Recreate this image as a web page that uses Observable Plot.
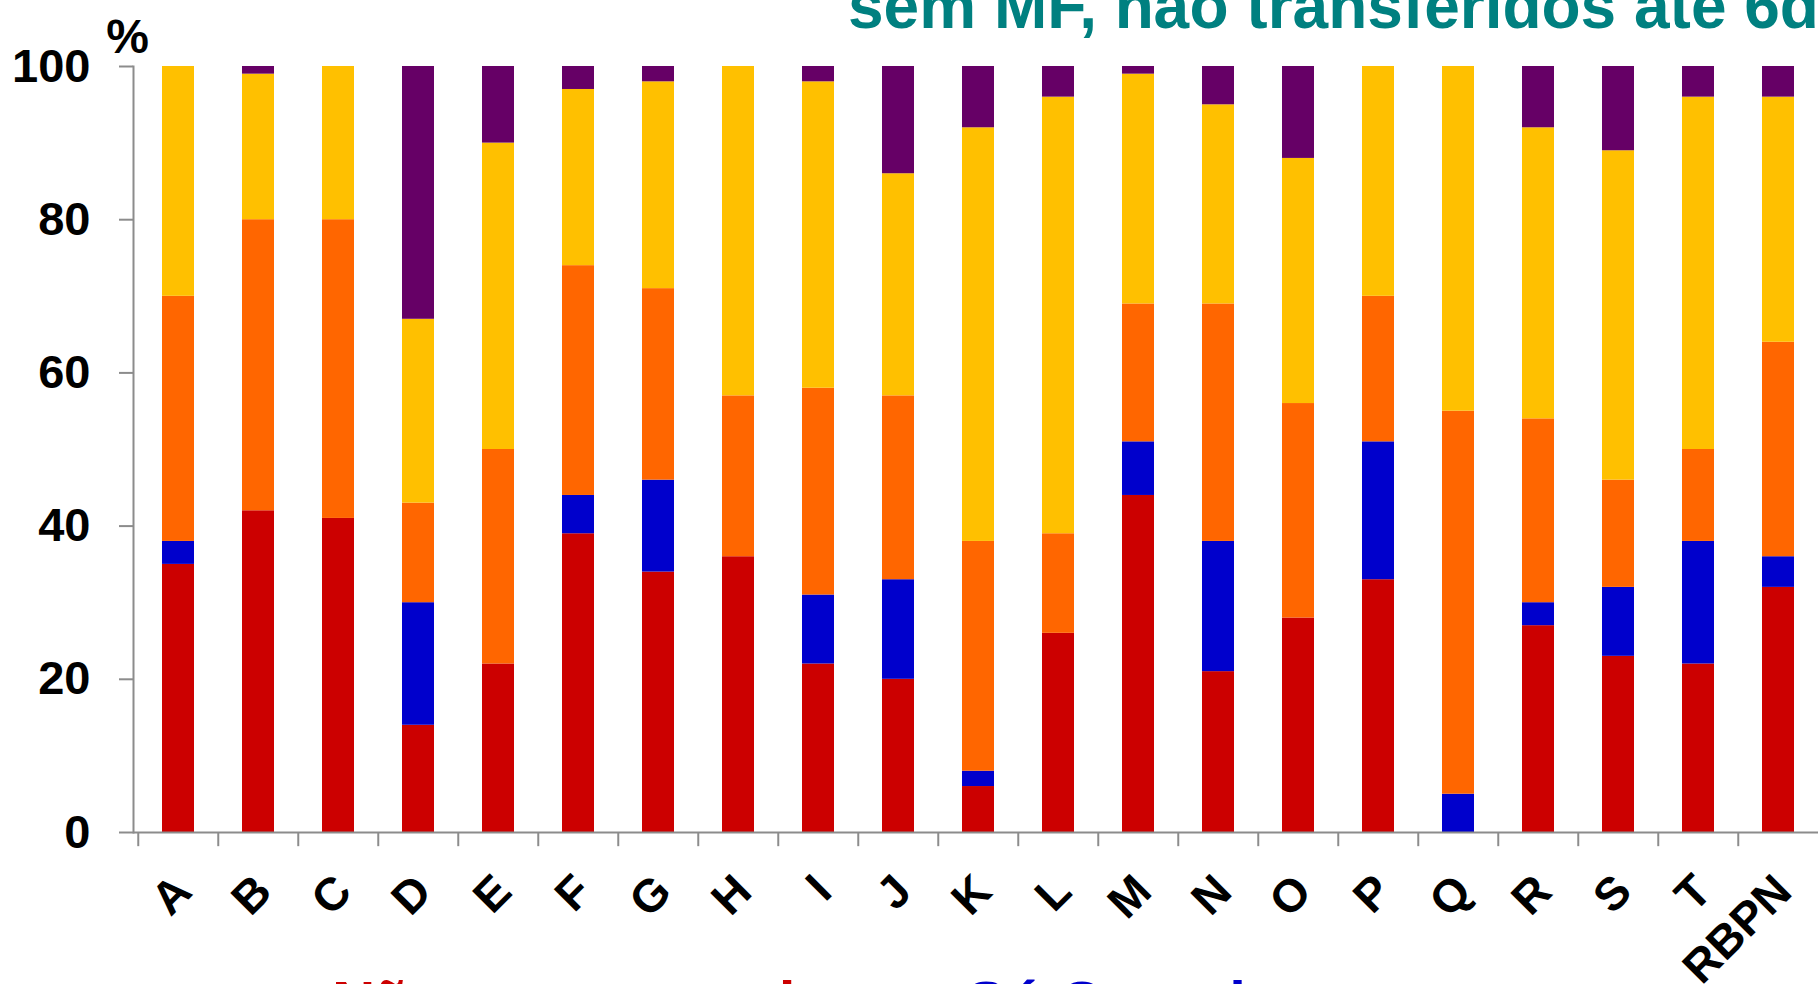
<!DOCTYPE html>
<html>
<head>
<meta charset="utf-8">
<script src="https://cdn.jsdelivr.net/npm/d3@7"></script>
<script src="https://cdn.jsdelivr.net/npm/@observablehq/plot@0.6"></script>
<style>
  html, body { margin: 0; padding: 0; background: #fff; overflow: hidden; }
  #page { position: relative; width: 1818px; height: 984px; overflow: hidden; background: #fff;
          font-family: "Liberation Sans", Arial, sans-serif; }
  #chart { position: absolute; left: 0; top: 0; width: 1818px; height: 984px; }
  #chart svg { max-width: none !important; }
  .txt { position: absolute; white-space: nowrap; font-weight: bold; line-height: 1; }
</style>
</head>
<body>
<div id="page">
  <div id="chart"></div>
  <div class="txt" id="title" style="left:848px; top:-26px; font-size:64px; color:#008080;">sem MF, não transferidos até 6d</div>
  <div class="txt" style="left:332px; top:973px; font-size:60px; color:#CC0000;">Não amamentado</div>
  <div class="txt" style="left:966px; top:973px; font-size:60px; color:#0000CC;">Só Complemento</div>
</div>
<script>
// Categories (hospitals + network total)
const categories = ["A","B","C","D","E","F","G","H","I","J","K","L","M","N","O","P","Q","R","S","T","RBPN"];

// Series (stacked from bottom to top), values in %
const seriesNames = ["vermelho", "azul", "laranja", "amarelo", "roxo"];
const seriesColors = ["#CC0000", "#0000CC", "#FF6600", "#FFC000", "#660066"];

const vermelho = [35, 42, 41, 14, 22, 39, 34, 36, 22, 20, 6, 26, 44, 21, 28, 33, 0, 27, 23, 22, 32];
const azul     = [ 3,  0,  0, 16,  0,  5, 12,  0,  9, 13, 2,  0,  7, 17,  0, 18, 5,  3,  9, 16,  4];
const laranja  = [32, 38, 39, 13, 28, 30, 25, 21, 27, 24, 30, 13, 18, 31, 28, 19, 50, 24, 14, 12, 28];
const amarelo  = [30, 19, 20, 24, 40, 23, 27, 43, 40, 29, 54, 57, 30, 26, 32, 30, 45, 38, 43, 46, 32];
const roxo     = [ 0,  1,  0, 33, 10,  3,  2,  0,  2, 14, 8,  4,  1,  5, 12,  0, 0,  8, 11,  4,  4];

const yTicks = [0, 20, 40, 60, 80, 100];

const seriesValues = [vermelho, azul, laranja, amarelo, roxo];
const tidy = [];
categories.forEach((c, i) => {
  seriesNames.forEach((s, j) => tidy.push({cat: c, series: s, value: seriesValues[j][i]}));
});

const width = 1818, height = 984;
const marginLeft = 133, marginRight = 0, marginTop = 66, marginBottom = 152;
const xRight = 1823; // plot area continues slightly past the right edge of the page
const step = (xRight - marginLeft) / categories.length;
const axisGray = "#8c8c8c";

const chart = Plot.plot({
  width, height, marginLeft, marginRight, marginTop, marginBottom,
  style: {fontFamily: '"Liberation Sans", Arial, sans-serif', background: "#fff", overflow: "visible"},
  x: {type: "band", domain: categories, range: [marginLeft, xRight], paddingInner: 0.6, paddingOuter: 0.3, axis: null},
  y: {domain: [0, 100], axis: null},
  color: {domain: seriesNames, range: seriesColors},
  marks: [
    Plot.barY(tidy, {x: "cat", y: "value", fill: "series"}),
    Plot.frame({anchor: "left", stroke: axisGray, strokeWidth: 2}),
    Plot.ruleY([0], {stroke: axisGray, strokeWidth: 2}),
    Plot.ruleX(categories, {x: d => d, dx: -step / 2, y1: 0, y2: -1.85, stroke: axisGray, strokeWidth: 2}),
    Plot.axisY({ticks: yTicks, tickSize: 14, tickPadding: 29, fontSize: 47, fontWeight: "bold",
                stroke: axisGray, strokeWidth: 2, fill: "#000", label: null}),
    Plot.text(categories, {x: d => d, frameAnchor: "bottom", text: d => d, rotate: -45,
                textAnchor: "end", lineAnchor: "middle", dx: 5, dy: 51,
                fontSize: 46, fontWeight: "bold", fill: "#000"}),
    Plot.text(["%"], {frameAnchor: "top-left", text: d => d, textAnchor: "middle", lineAnchor: "bottom",
                dx: -6, dy: -14, fontSize: 48, fontWeight: "bold", fill: "#000"})
  ]
});
document.getElementById("chart").appendChild(chart);
</script>
</body>
</html>
